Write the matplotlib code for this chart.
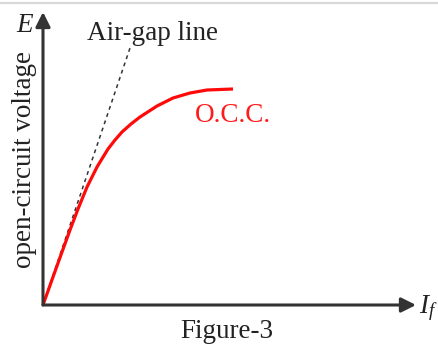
import matplotlib
matplotlib.use("Agg")
import matplotlib.pyplot as plt

# Values (arbitrary units, origin at the axes corner)
occ_if = [0, 10, 19, 27, 35, 44, 54, 65, 72, 79, 88, 97, 114, 130, 147, 164, 190]
occ_e = [0, 28, 53, 75, 96, 118, 138, 156, 165, 173, 181, 188, 199, 207, 212, 215, 216]

airgap_if = [0, 87]
airgap_e = [0, 257]

plt.rcParams['font.family'] = ['Liberation Serif', 'DejaVu Serif']
plt.rcParams['mathtext.fontset'] = 'custom'
plt.rcParams['mathtext.it'] = 'Liberation Serif:italic'
plt.rcParams['mathtext.rm'] = 'Liberation Serif'

fig = plt.figure(figsize=(4.38, 3.45), dpi=100)
ax = fig.add_axes([0, 0, 1, 1])
ax.set_xlim(-43, 395)
ax.set_ylim(-40, 305)
ax.axis('off')

text_color = '#222222'
axis_color = '#333333'

# light frame line at the top
ax.axhline(302, color='#d9d9d9', lw=1.6)

# axes with arrows
ax.annotate('', xy=(373, 0), xytext=(0, 0),
            arrowprops=dict(arrowstyle='-|>', lw=2.2, color=axis_color,
                            mutation_scale=22, shrinkA=0, shrinkB=0))
ax.annotate('', xy=(0, 293), xytext=(0, 0),
            arrowprops=dict(arrowstyle='-|>', lw=2.2, color=axis_color,
                            mutation_scale=22, shrinkA=0, shrinkB=0))

# curves
ax.plot(airgap_if, airgap_e, color='#333333', lw=1.1, ls=(0, (2.5, 2.5)))
ax.plot(occ_if, occ_e, color='#ff0a0a', lw=2.3, solid_capstyle='butt',
        solid_joinstyle='round')

# labels
fs = 19.5
ax.text(44, 265, 'Air-gap line', fontsize=fs, color=text_color, ha='left', va='baseline')
ax.text(152, 183, 'O.C.C.', fontsize=fs, color='#ff1a1a', ha='left', va='baseline')
ax.text(184, -33, 'Figure-3', fontsize=fs, color=text_color, ha='center', va='baseline')
ax.text(-18, 146, 'open-circuit voltage', fontsize=fs, color=text_color,
        rotation=90, ha='center', va='center')
ax.text(-9, 273, '$E$', fontsize=fs, color=text_color, ha='right', va='baseline')
ax.text(376, -8, '$I_f$', fontsize=fs, color=text_color, ha='left', va='baseline')

fig.savefig('out.png', dpi=100)
